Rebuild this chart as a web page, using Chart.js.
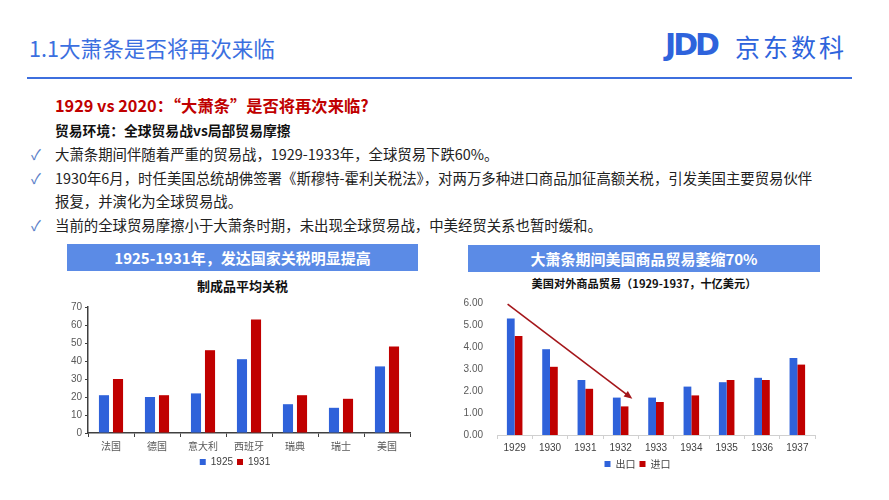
<!DOCTYPE html>
<html lang="zh">
<head>
<meta charset="UTF-8">
<title>1.1大萧条是否将再次来临</title>
<style>
    body {
        margin: 0;
        width: 889px;
        height: 500px;
        background: #fff;
        font-family: "Noto Sans CJK SC", "Noto Sans", sans-serif;
        position: relative;
        overflow: hidden;
    }
    .abs { position: absolute; white-space: nowrap; }
    .title { left: 29px; top: 32px; font-size: 21.6px; color: #3b6fe0; }
    .rule { left: 27px; top: 77px; width: 825px; height: 2px; background: #3e6fde; }
    .logo { left: 665px; top: 27px; font-size: 30px; font-weight: 900; color: #2e63dc; letter-spacing: -3px; font-family: "DejaVu Sans", sans-serif; }
    .logo-cn { left: 735px; top: 28px; font-size: 25px; color: #2e63dc; letter-spacing: 3px; }
    .h-red { left: 55px; top: 93px; font-size: 16.3px; font-weight: bold; color: #c00000; }
    .h-sub { left: 55px; top: 120px; font-size: 13.8px; font-weight: bold; color: #111; }
    .bullet { left: 31px; font-size: 14.4px; color: #222; }
    .bullet span.ck { color: #5b7fc9; display: inline-block; width: 24px; }
    .banner { height: 27px; line-height: 27px; background: #5b8be6; color: #fff; font-weight: bold; font-size: 15px; text-align: center; }
    .ctitle { font-weight: bold; color: #111; text-align: center; }
    canvas { position: absolute; }
</style>
</head>
<body>
<div class="abs title">1.1大萧条是否将再次来临</div>
<div class="abs rule"></div>
<div class="abs logo">JDD</div>
<div class="abs logo-cn">京东数科</div>

<div class="abs h-red">1929 vs 2020：“大萧条”是否将再次来临?</div>
<div class="abs h-sub">贸易环境：全球贸易战vs局部贸易摩擦</div>
<div class="abs bullet" style="top:143px"><span class="ck">✓</span>大萧条期间伴随着严重的贸易战，1929-1933年，全球贸易下跌60%。</div>
<div class="abs bullet" style="top:167px"><span class="ck">✓</span>1930年6月，时任美国总统胡佛签署《斯穆特-霍利关税法》，对两万多种进口商品加征高额关税，引发美国主要贸易伙伴</div>
<div class="abs bullet" style="top:190px"><span class="ck"></span>报复，并演化为全球贸易战。</div>
<div class="abs bullet" style="top:214px"><span class="ck">✓</span>当前的全球贸易摩擦小于大萧条时期，未出现全球贸易战，中美经贸关系也暂时缓和。</div>

<div class="abs banner" style="left:67px; top:244px; width:351px;">1925-1931年，发达国家关税明显提高</div>
<div class="abs ctitle" style="left:67px; top:276px; width:351px; font-size:13px;">制成品平均关税</div>
<canvas id="tariffChart" style="left:60px; top:295px;" width="360" height="182"></canvas>

<div class="abs banner" style="left:468px; top:245px; width:352px;">大萧条期间美国商品贸易萎缩70%</div>
<div class="abs ctitle" style="left:468px; top:275px; width:352px; font-size:11.2px;">美国对外商品贸易（1929-1937，十亿美元）</div>
<canvas id="tradeChart" style="left:460px; top:290px;" width="360" height="189"></canvas>

<script src="https://cdn.jsdelivr.net/npm/chart.js"></script>
<script>
    // 制成品平均关税
    const countries = ['法国', '德国', '意大利', '西班牙', '瑞典', '瑞士', '美国'];
    const tariff1925 = [21, 20, 22, 41, 16, 14, 37];
    const tariff1931 = [30, 21, 46, 63, 21, 19, 48];

    // 美国对外商品贸易（十亿美元）
    const years = ['1929', '1930', '1931', '1932', '1933', '1934', '1935', '1936', '1937'];
    const exportsUS = [5.3, 3.9, 2.5, 1.7, 1.7, 2.2, 2.4, 2.6, 3.5];
    const importsUS = [4.5, 3.1, 2.1, 1.3, 1.5, 1.8, 2.5, 2.5, 3.2];

    const BLUE = '#2f62da';
    const RED = '#c00000';
    const tickFont = { family: 'Liberation Sans', size: 10 };
    const cnFont = { family: 'Noto Sans CJK SC', size: 10 };

    Chart.defaults.animation = false;
    Chart.defaults.color = '#595959';

    new Chart(document.getElementById('tariffChart'), {
        type: 'bar',
        data: {
            labels: countries,
            datasets: [
                { label: '1925', data: tariff1925, backgroundColor: BLUE, barPercentage: 0.72, categoryPercentage: 0.61 },
                { label: '1931', data: tariff1931, backgroundColor: RED, barPercentage: 0.72, categoryPercentage: 0.61 }
            ]
        },
        options: {
            responsive: false,
            layout: { padding: { top: 12, right: 10, bottom: 0, left: 0 } },
            plugins: {
                legend: {
                    position: 'bottom',
                    labels: { boxWidth: 6, boxHeight: 6, padding: 4, font: tickFont, color: '#404040' }
                },
                tooltip: { enabled: false }
            },
            scales: {
                x: {
                    grid: { display: true, drawOnChartArea: false, tickLength: 4, color: '#404040' },
                    border: { color: '#404040', width: 1.5 },
                    ticks: { font: cnFont, padding: 3 },
                    afterFit: s => { s.height = 20; }
                },
                y: {
                    min: 0, max: 70,
                    grid: { display: true, drawOnChartArea: false, tickLength: 3, color: '#404040' },
                    border: { color: '#404040', width: 1.5 },
                    ticks: { stepSize: 10, font: tickFont, padding: 3 },
                    afterFit: s => { s.width = 28; }
                }
            }
        }
    });

    // 趋势箭头（从1929年到1932年）
    const trendArrow = {
        id: 'trendArrow',
        afterDatasetsDraw(chart) {
            const { ctx, scales: { x, y } } = chart;
            const x0 = x.getPixelForValue(-0.2), y0 = y.getPixelForValue(5.95);
            const x1 = x.getPixelForValue(3.33), y1 = y.getPixelForValue(1.65);
            const ang = Math.atan2(y1 - y0, x1 - x0);
            ctx.save();
            ctx.strokeStyle = '#a4161a';
            ctx.fillStyle = '#a4161a';
            ctx.lineWidth = 1.6;
            ctx.beginPath();
            ctx.moveTo(x0, y0);
            ctx.lineTo(x1 - 6 * Math.cos(ang), y1 - 6 * Math.sin(ang));
            ctx.stroke();
            ctx.beginPath();
            ctx.moveTo(x1, y1);
            ctx.lineTo(x1 - 9 * Math.cos(ang - 0.4), y1 - 9 * Math.sin(ang - 0.4));
            ctx.lineTo(x1 - 9 * Math.cos(ang + 0.4), y1 - 9 * Math.sin(ang + 0.4));
            ctx.closePath();
            ctx.fill();
            ctx.restore();
        }
    };

    new Chart(document.getElementById('tradeChart'), {
        type: 'bar',
        data: {
            labels: years,
            datasets: [
                { label: '出口', data: exportsUS, backgroundColor: BLUE, barPercentage: 1, categoryPercentage: 0.44 },
                { label: '进口', data: importsUS, backgroundColor: RED, barPercentage: 1, categoryPercentage: 0.44 }
            ]
        },
        options: {
            responsive: false,
            layout: { padding: { top: 13, right: 5, bottom: 0, left: 0 } },
            plugins: {
                legend: {
                    position: 'bottom',
                    labels: { boxWidth: 6, boxHeight: 6, padding: 4, font: cnFont, color: '#404040' }
                },
                tooltip: { enabled: false }
            },
            scales: {
                x: {
                    grid: { display: true, drawOnChartArea: false, tickLength: 4, color: '#d0d0d0' },
                    border: { color: '#d0d0d0' },
                    ticks: { font: tickFont, color: '#404040', padding: 3 },
                    afterFit: s => { s.height = 20; }
                },
                y: {
                    min: 0, max: 6,
                    grid: { display: false },
                    border: { display: false },
                    ticks: { stepSize: 1, font: tickFont, padding: 6, callback: v => v.toFixed(2) },
                    afterFit: s => { s.width = 37; }
                }
            }
        },
        plugins: [trendArrow]
    });
</script>
</body>
</html>
